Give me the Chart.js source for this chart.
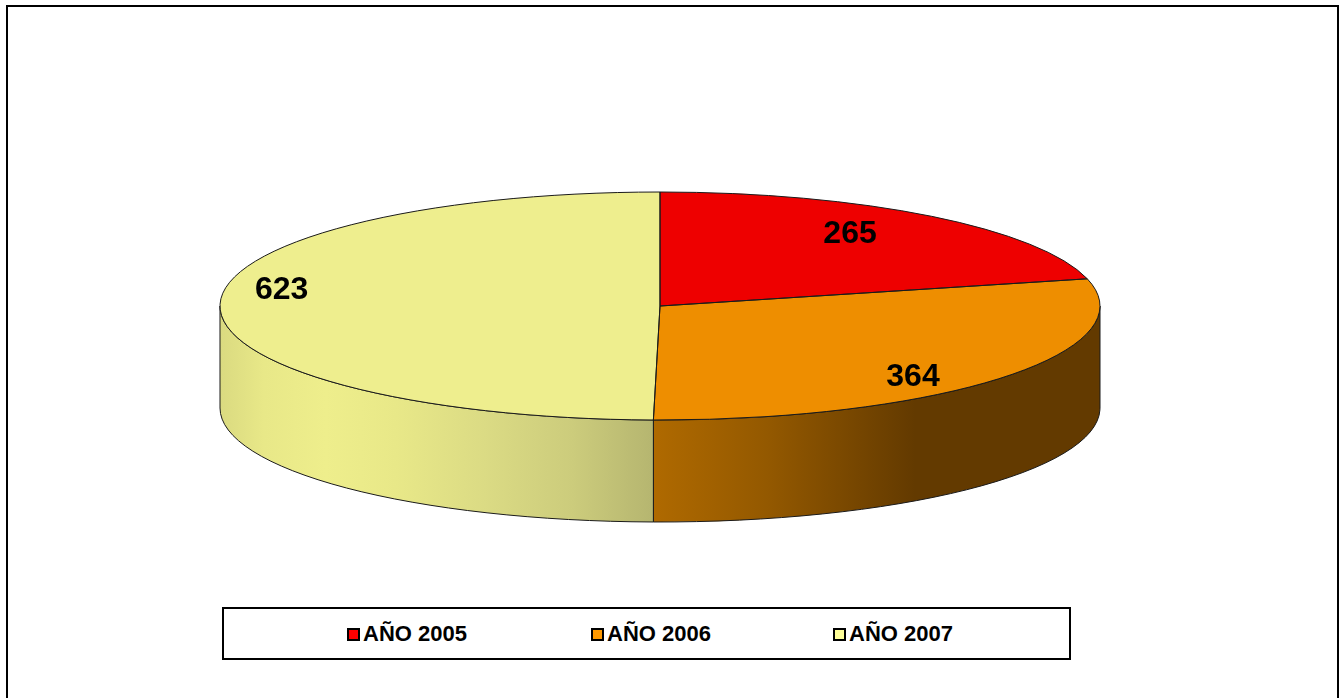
<!DOCTYPE html>
<html lang="es">

<head>
    <meta charset="UTF-8">
    <title>Años 2005 - 2007</title>
    <script src="https://cdn.jsdelivr.net/npm/chart.js"></script>
    <style>
        html, body {
            margin: 0;
            width: 1339px;
            height: 698px;
            overflow: hidden;
            background: #fff;
        }

        #frame {
            position: absolute;
            left: 6px;
            top: 5px;
            width: 1333px;
            height: 720px;
            border: 2px solid #000;
            box-sizing: border-box;
        }

        #myChart {
            position: absolute;
            left: 0;
            top: 0;
        }

        /* Legend */
        .custom-legend {
            position: absolute;
            left: 222px;
            top: 607px;
            width: 849px;
            height: 53px;
            box-sizing: border-box;
            border: 2px solid #000;
            background: #fff;
        }

        .legend-item {
            position: absolute;
            top: 12px;
            display: flex;
            align-items: center;
            height: 26px;
            font: bold 22px "Liberation Sans", Arial, sans-serif;
            color: #000;
            white-space: nowrap;
        }

        .legend-box {
            width: 13px;
            height: 13px;
            box-sizing: border-box;
            border: 2px solid #000;
            margin-right: 3px;
        }
    </style>
</head>

<body>
    <div id="frame"></div>
    <canvas id="myChart" width="1339" height="698"></canvas>
    <div class="custom-legend" id="legend"></div>

    <script>
        const categories = ['AÑO 2005', 'AÑO 2006', 'AÑO 2007'];
        const values = [265, 364, 623];

        const topColors = ['#EE0000', '#EE8E00', '#EEEE8E'];
        const legendColors = ['#FF0000', '#FF9900', '#FFFF99'];
        const legendLeft = [123, 367, 609];

        // label position along the slice's middle angle
        const labelRadius = [0.70, 0.735, 0.86];
        const labelShiftY = [-9, 19, -15];

        // ellipse of the top face, and height of the side wall
        const pieX = 660, pieY = 306, pieRx = 440, pieRy = 114, pieDepth = 102;

        const wallStops = [
            null,
            [[0, '#633A00'], [0.49, '#B06A00'], [0.62, '#945900'], [0.79, '#633A00'], [1, '#633A00']],
            [[0, '#DADA80'], [0.05, '#E8E888'], [0.12, '#EEEE8C'], [0.2, '#E8E888'], [0.3, '#DBDB84'], [0.4, '#CCCC7C'], [0.49, '#B6B670'], [1, '#B6B670']],
        ];

        function ellipsePath(c, start, end, dy) {
            c.ellipse(pieX, pieY + dy, pieRx, pieRy, 0, start, end);
        }

        const pie3d = {
            id: 'pie3d',
            // side wall, under the slices
            beforeDatasetsDraw(chart) {
                const c = chart.ctx;
                chart.getDatasetMeta(0).data.forEach((arc, i) => {
                    const start = Math.max(arc.startAngle, 0);
                    const end = Math.min(arc.endAngle, Math.PI);
                    if (end <= start) return;
                    const grad = c.createLinearGradient(pieX - pieRx, 0, pieX + pieRx, 0);
                    wallStops[i].forEach(s => grad.addColorStop(s[0], s[1]));
                    c.save();
                    c.beginPath();
                    ellipsePath(c, start, end, 0);
                    c.ellipse(pieX, pieY + pieDepth, pieRx, pieRy, 0, end, start, true);
                    c.closePath();
                    c.fillStyle = grad;
                    c.fill();
                    c.strokeStyle = '#1a1a1a';
                    c.lineWidth = 1;
                    c.stroke();
                    c.restore();
                });
            },
            // squash the library's round pie into the ellipse
            beforeDatasetDraw(chart) {
                const c = chart.ctx;
                const arc = chart.getDatasetMeta(0).data[0];
                c.save();
                c.translate(pieX, pieY);
                c.scale(pieRx / arc.outerRadius, pieRy / arc.outerRadius);
                c.translate(-arc.x, -arc.y);
            },
            afterDatasetDraw(chart) {
                const c = chart.ctx;
                c.restore();
                chart.getDatasetMeta(0).data.forEach((arc, i) => {
                    c.save();
                    c.beginPath();
                    c.moveTo(pieX, pieY);
                    ellipsePath(c, arc.startAngle, arc.endAngle, 0);
                    c.closePath();
                    c.strokeStyle = '#1a1a1a';
                    c.lineWidth = 1;
                    c.stroke();

                    const mid = (arc.startAngle + arc.endAngle) / 2;
                    c.font = 'bold 32px "Liberation Sans", Arial, sans-serif';
                    c.fillStyle = '#000';
                    c.textAlign = 'center';
                    c.textBaseline = 'middle';
                    c.fillText(values[i],
                        pieX + labelRadius[i] * pieRx * Math.cos(mid),
                        pieY + labelRadius[i] * pieRy * Math.sin(mid) + labelShiftY[i]);
                    c.restore();
                });
            }
        };

        new Chart(document.getElementById('myChart'), {
            type: 'pie',
            data: {
                labels: categories,
                datasets: [{
                    data: values,
                    backgroundColor: topColors,
                    borderWidth: 0,
                }]
            },
            options: {
                responsive: false,
                animation: false,
                plugins: {
                    legend: { display: false },
                    tooltip: { enabled: false },
                },
            },
            plugins: [pie3d]
        });

        // Legend
        const legend = document.getElementById('legend');
        categories.forEach((name, i) => {
            const item = document.createElement('div');
            item.className = 'legend-item';
            item.style.left = legendLeft[i] + 'px';
            item.innerHTML = '<div class="legend-box" style="background-color:' + legendColors[i] + '"></div><span>' + name + '</span>';
            legend.appendChild(item);
        });
    </script>
</body>

</html>
